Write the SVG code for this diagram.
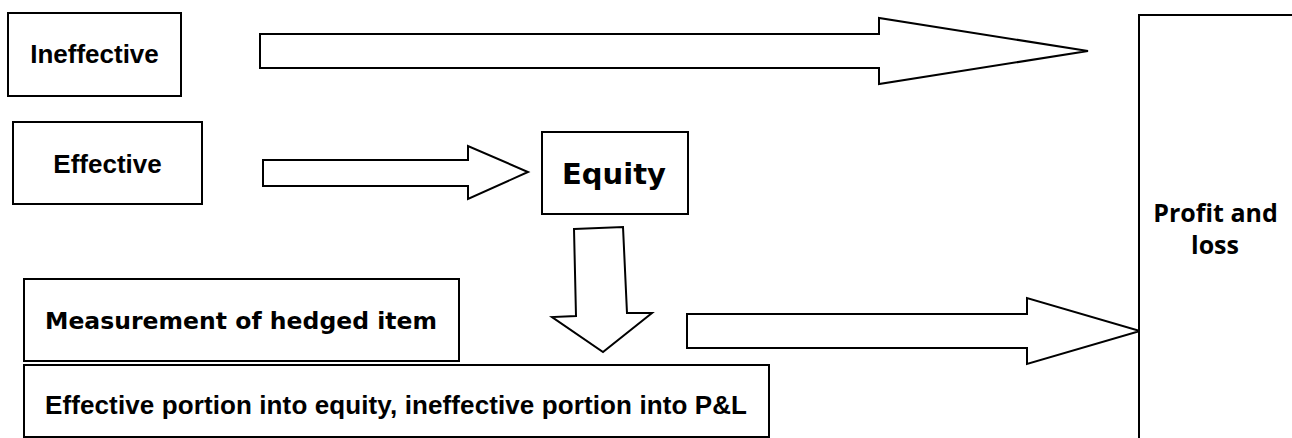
<svg xmlns="http://www.w3.org/2000/svg" width="1292" height="438" viewBox="0 0 1292 438">
  <style>
    .box { fill: #ffffff; stroke: #000000; stroke-width: 2; }
    .arrow { fill: #ffffff; stroke: #000000; stroke-width: 2; stroke-linejoin: miter; }
    .lbl { font-family: "Liberation Sans", Arial, sans-serif; font-weight: bold; font-size: 26px; fill: #000000; text-anchor: middle; }
    .wide { font-family: "DejaVu Sans", Verdana, sans-serif; font-weight: bold; fill: #000000; text-anchor: middle; }
    .pl { font-family: "Open Sans", "Noto Sans", sans-serif; font-weight: bold; font-size: 25px; fill: #000000; text-anchor: middle; }
  </style>
  <rect width="1292" height="438" fill="#ffffff"/>

  <!-- block arrows between the stages -->
  <g id="connectors">
    <polygon class="arrow" points="260,34 879,34 879,18 1088,51 879,84 879,68 260,68"/>
    <polygon class="arrow" points="263,160 468,160 468,146 528,172 468,199 468,186 263,186"/>
    <polygon class="arrow" points="574,229 623,227 627,313 652,313 603,352 552,317 576,316"/>
    <polygon class="arrow" points="687,314 1027,314 1027,298 1140,331 1027,364 1027,348 687,348"/>
  </g>

  <g id="ineffective">
    <rect class="box" x="8" y="13" width="173" height="83"/>
    <text class="lbl" x="94.5" y="63">Ineffective</text>
  </g>

  <g id="effective">
    <rect class="box" x="13" y="122" width="189" height="82"/>
    <text class="lbl" x="107.5" y="173">Effective</text>
  </g>

  <g id="equity">
    <rect class="box" x="542" y="132" width="146" height="82"/>
    <text class="wide" x="614" y="184" font-size="29">Equity</text>
  </g>

  <g id="measurement">
    <rect class="box" x="24" y="279" width="435" height="82"/>
    <text class="wide" x="241" y="329" font-size="23.5" textLength="392">Measurement of hedged item</text>
  </g>

  <g id="portions">
    <rect class="box" x="24" y="365" width="745" height="72"/>
    <text class="lbl" x="396" y="414" textLength="702">Effective portion into equity, ineffective portion into P&amp;L</text>
  </g>

  <g id="profit-and-loss">
    <rect class="box" x="1139" y="15" width="200" height="450"/>
    <text class="pl" x="1215.5" y="222">Profit and</text>
    <text class="pl" x="1215" y="254">loss</text>
  </g>
</svg>
